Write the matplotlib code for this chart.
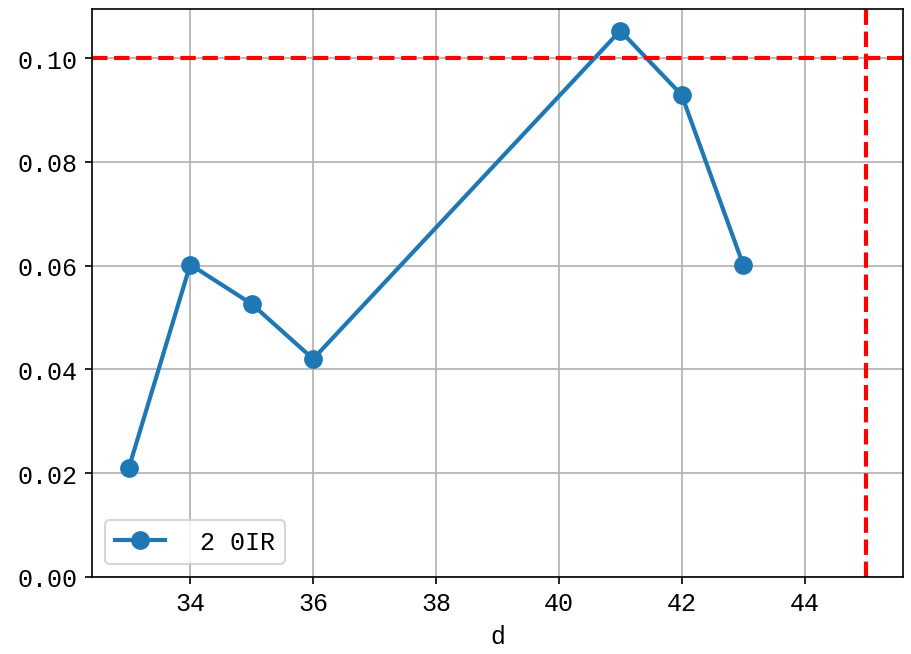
import matplotlib
matplotlib.use('Agg')
import matplotlib.pyplot as plt

plt.rcParams['font.family'] = ['Liberation Mono', 'Noto Sans CJK JP', 'DejaVu Sans']
plt.rcParams['font.size'] = 12
plt.rcParams['axes.unicode_minus'] = False

# 数据
d = [33, 34, 35, 36, 41, 42, 43]
rate = [0.021, 0.0602, 0.0526, 0.042, 0.1053, 0.0929, 0.0602]
label = ' 2 0IR'
thresh_y = 0.10
thresh_x = 45

fig = plt.figure(figsize=(911 / 150, 655 / 150), dpi=150)
ax = fig.add_axes([0.101, 0.118, 0.890, 0.867])

ax.plot(d, rate, marker='o', markersize=8, linewidth=2, label=label)
ax.axhline(thresh_y, color='red', linestyle='--', linewidth=2)
ax.axvline(thresh_x, color='red', linestyle='--', linewidth=2)

ax.set_ylim(bottom=0)
ax.set_xlabel('d')
ax.grid(True)
ax.legend(loc='lower left')

fig.savefig('out.png', dpi=150)
